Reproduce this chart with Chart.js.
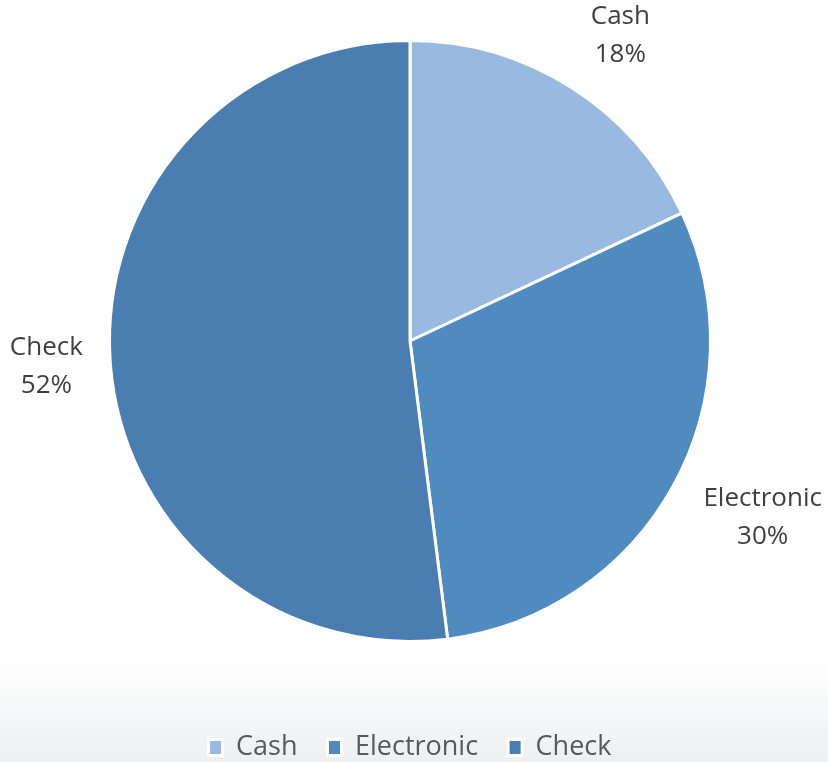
<!DOCTYPE html>
<html>
<head>
<meta charset="utf-8">
<script src="https://cdn.jsdelivr.net/npm/chart.js@4/dist/chart.umd.min.js"></script>
<style>
  html, body { margin: 0; padding: 0; background: #fff; }
  #wrap { width: 828px; height: 762px; position: relative; }
</style>
</head>
<body>
<div id="wrap"><canvas id="canvas"></canvas></div>
<script>
const categories = ['Cash', 'Electronic', 'Check'];
const shares = [18, 30, 52];
const sliceColors = ['#98b9e0', '#4f8bbf', '#4a7eb0'];

// 배경 아래쪽 회색 그라데이션
const bgPlugin = {
    id: 'bg',
    beforeDraw: function (chart) {
        const ctx = chart.ctx;
        const h = chart.height;
        const g = ctx.createLinearGradient(0, 660, 0, h);
        g.addColorStop(0, '#ffffff');
        g.addColorStop(1, '#eeeff1');
        ctx.save();
        ctx.fillStyle = g;
        ctx.fillRect(0, 0, chart.width, h);
        ctx.restore();
    }
};

// 조각 바깥쪽 라벨 (이름 + 퍼센트)
const nudge = [[14, 4], [12, -11], [-7, 3]];
const outsideLabels = {
    id: 'outsideLabels',
    afterDatasetsDraw: function (chart) {
        const ctx = chart.ctx;
        const meta = chart.getDatasetMeta(0);
        ctx.save();
        ctx.font = '26px "Open Sans"';
        ctx.fillStyle = '#404040';
        ctx.textAlign = 'center';
        ctx.textBaseline = 'middle';
        meta.data.forEach(function (arc, i) {
            const p = arc.getProps(['x', 'y', 'startAngle', 'endAngle', 'outerRadius'], true);
            const mid = (p.startAngle + p.endAngle) / 2;
            const l1 = categories[i];
            const l2 = shares[i] + '%';
            const halfW = Math.max(ctx.measureText(l1).width, ctx.measureText(l2).width) / 2;
            const halfH = 38;
            const c = Math.cos(mid), s = Math.sin(mid);
            const d = p.outerRadius + 18 + halfW * Math.abs(c) + halfH * Math.abs(s);
            const cx = p.x + c * d + nudge[i][0];
            const cy = p.y + s * d + nudge[i][1];
            ctx.fillText(l1, cx, cy - 19);
            ctx.fillText(l2, cx, cy + 19);
        });
        ctx.restore();
    }
};

const ctx = document.getElementById('canvas').getContext('2d');
new Chart(ctx, {
    type: 'pie',
    data: {
        labels: categories,
        datasets: [{
            data: shares,
            backgroundColor: sliceColors,
            borderColor: '#ffffff',
            borderWidth: 3
        }]
    },
    options: {
        responsive: true,
        maintainAspectRatio: false,
        animation: false,
        layout: {
            padding: { top: 39, left: 108, right: 116, bottom: -9 }
        },
        plugins: {
            tooltip: { enabled: false },
            legend: {
                position: 'bottom',
                title: {
                    display: true,
                    text: '',
                    font: { size: 10 },
                    padding: { top: 0, bottom: 49 }
                },
                labels: {
                    color: '#595959',
                    font: { family: '"Open Sans"', size: 27 },
                    boxWidth: 14,
                    boxHeight: 16,
                    padding: 30
                }
            }
        }
    },
    plugins: [bgPlugin, outsideLabels]
});
</script>
</body>
</html>
